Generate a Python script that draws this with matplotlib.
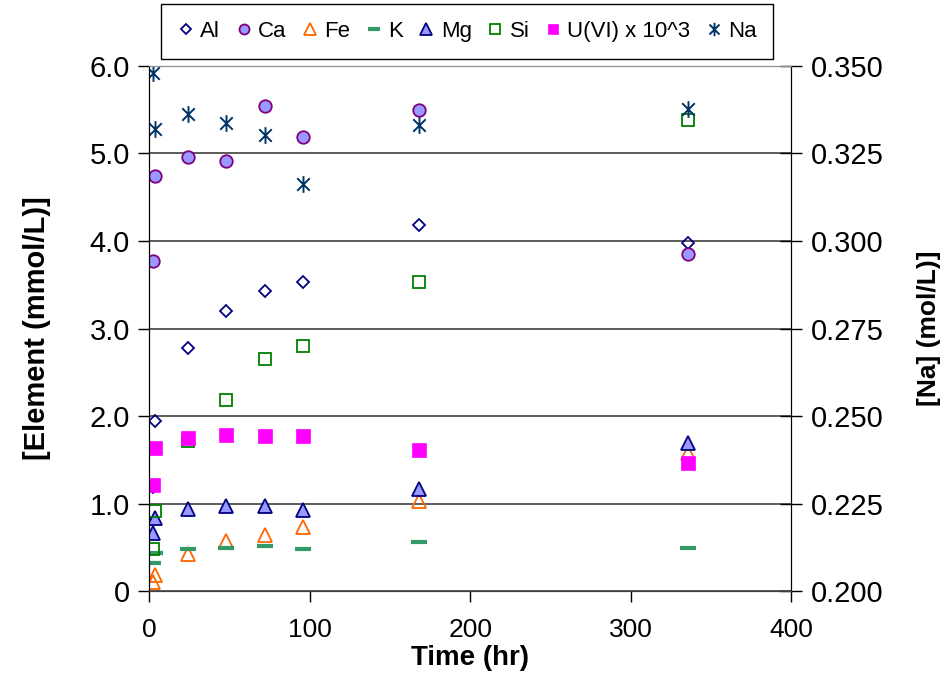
import matplotlib
matplotlib.use("Agg")
import matplotlib.pyplot as plt
from matplotlib.path import Path
from matplotlib.ticker import FuncFormatter, MultipleLocator

plt.rcParams['font.family'] = ['Liberation Sans', 'DejaVu Sans']

# sampling times (hr)
times = [2, 3.5, 24, 48, 72, 96, 168, 336]

# element concentrations (mmol/L), U scaled by 10^3
al = [1.19, 1.95, 2.78, 3.20, 3.43, 3.53, 4.18, 3.98]
ca = [3.77, 4.74, 4.96, 4.91, 5.54, 5.18, 5.49, 3.85]
fe = [0.11, 0.19, 0.43, 0.58, 0.645, 0.73, 1.03, 1.58]
k = [0.33, 0.44, 0.48, 0.50, 0.52, 0.49, 0.56, 0.495]
mg = [0.67, 0.84, 0.94, 0.97, 0.97, 0.93, 1.17, 1.69]
si = [0.48, 0.92, 1.72, 2.18, 2.65, 2.80, 3.53, 5.38]
u = [1.22, 1.64, 1.75, 1.785, 1.77, 1.77, 1.61, 1.46]

# Na (mol/L), right axis
na = [0.3478, 0.332, 0.3363, 0.3335, 0.3302, 0.3163, 0.3331, 0.3376]

# excel-style star: vertical bar plus an x
star = Path([(0, -1), (0, 1), (-0.75, -0.75), (0.75, 0.75), (-0.75, 0.75), (0.75, -0.75)],
            [Path.MOVETO, Path.LINETO, Path.MOVETO, Path.LINETO, Path.MOVETO, Path.LINETO])

fig = plt.figure(figsize=(9.51, 6.79), dpi=100)
ax = fig.add_axes([0.1572, 0.1289, 0.6745, 0.7746])
ax2 = ax.twinx()

h = []
h += ax.plot(times, al, ls='none', marker='D', ms=6.5, mfc='none', mec='#000080', mew=1.3, label='Al')
h += ax.plot(times, ca, ls='none', marker='o', ms=9, mfc='#9999FF', mec='#800080', mew=1.3, label='Ca')
h += ax.plot(times, fe, ls='none', marker='^', ms=10, mfc='none', mec='#FF6600', mew=1.3, label='Fe')
h += ax.plot(times, k, ls='none', marker='_', ms=11, mec='#339966', mew=3, label='K')
h += ax.plot(times, mg, ls='none', marker='^', ms=10, mfc='#9999FF', mec='#000080', mew=1.3, label='Mg')
h += ax.plot(times, si, ls='none', marker='s', ms=8.5, mfc='none', mec='#008000', mew=1.3, label='Si')
h += ax.plot(times, u, ls='none', marker='s', ms=9.5, mfc='#FF00FF', mec='#FF00FF', mew=0.5, label='U(VI) x 10^3')
h += ax2.plot(times, na, ls='none', marker=star, ms=12, mfc='none', mec='#003366', mew=1.4, label='Na')

ax.set_xlim(0, 400)
ax.set_ylim(0, 6)
ax2.set_ylim(0.2, 0.35)
ax.xaxis.set_major_locator(MultipleLocator(100))
ax.yaxis.set_major_locator(MultipleLocator(1))
ax2.yaxis.set_major_locator(MultipleLocator(0.025))
ax.yaxis.set_major_formatter(FuncFormatter(lambda v, p: '0' if v == 0 else f'{v:.1f}'))
ax2.yaxis.set_major_formatter(FuncFormatter(lambda v, p: f'{v:.3f}'))

ax.grid(axis='y', color='#404040', lw=1.2)
ax.set_axisbelow(True)

ax.tick_params(axis='y', direction='out', length=8, width=1, labelsize=21, pad=6)
ax.tick_params(axis='x', direction='out', length=8, width=1, labelsize=19, pad=11)
ax2.tick_params(axis='y', direction='inout', length=16, width=1, labelsize=21, pad=6)

for a in (ax, ax2):
    a.spines['top'].set_color('#909090')
    a.spines['bottom'].set_color('#404040')
    a.spines['left'].set_color('black')
    a.spines['right'].set_color('black')

ax.set_xlabel('Time (hr)', fontsize=20, fontweight='bold', labelpad=2)
ax.set_ylabel('[Element (mmol/L)]', fontsize=21, fontweight='bold', labelpad=28)
ax2.set_ylabel('[Na] (mol/L)]', fontsize=19, fontweight='bold', rotation=90, labelpad=24)

fig.legend(handles=h, loc='center', bbox_to_anchor=(0.4915, 0.9536), ncol=8, fontsize=16,
           frameon=True, fancybox=False, edgecolor='black', framealpha=1,
           handlelength=0.7, handletextpad=0.3, columnspacing=0.7, borderpad=0.75,
           markerscale=0.8)

fig.savefig('out.png', dpi=100)
